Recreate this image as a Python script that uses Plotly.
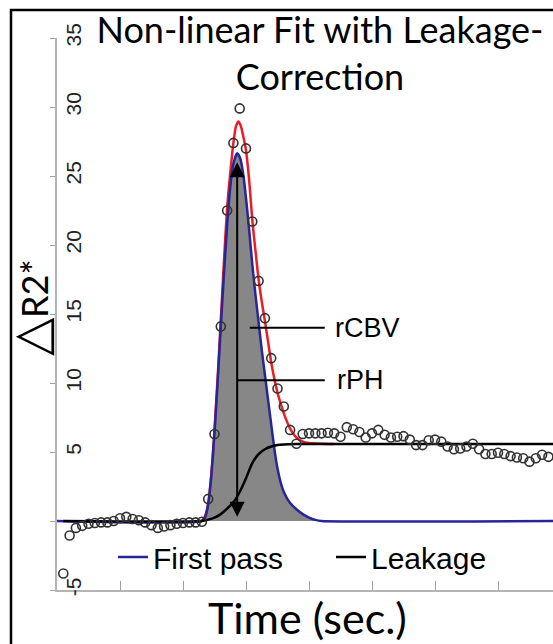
import plotly.graph_objects as go

# ---------------- data ----------------
# measured signal (open circles), one sample per time unit
sample_t = list(range(1, 79))
sample_dr2 = [
    -3.8, -1.05,
    -0.5, -0.35, -0.2, -0.15, -0.1, -0.1, 0.0, 0.2, 0.3, 0.15, 0.05,
    -0.1, -0.3, -0.5, -0.4, -0.3, -0.2, -0.15, -0.1, -0.1, -0.05,
    1.6, 6.3, 14.1, 22.5, 27.4, 29.9, 27.0, 21.7, 17.4, 14.7, 11.8, 9.6,
    8.3, 6.6, 5.6, 6.3,
    6.35, 6.35, 6.35, 6.4, 6.35, 6.1, 6.8, 6.65, 6.45, 6.05, 6.35, 6.6,
    6.25, 6.05, 6.1, 6.15, 5.9, 5.5, 5.5, 5.85, 5.9, 5.75, 5.4, 5.2,
    5.25, 5.4, 5.6, 5.2, 4.85, 4.85, 4.95, 4.85, 4.7, 4.6, 4.55, 4.3,
    4.55, 4.8, 4.65,
]

# first-pass fit (blue)
fp_t = [0, 23, 23.5, 24, 24.5, 25, 25.5, 26, 26.5, 27, 27.5, 28, 28.6, 29.1,
        29.6, 30, 30.5, 31, 31.5, 32, 32.5, 33, 33.5, 34, 34.5, 35, 35.5, 36,
        37, 38, 39, 40, 41, 42, 79]
fp_v = [0, 0, 0.25, 1.2, 3.3, 6.4, 10.1, 14.1, 17.9, 21.4, 24.2, 25.9, 26.65,
        26.25, 25.0, 23.4, 21.1, 18.6, 16.4, 14.4, 12.4, 10.6, 8.8, 7.0, 5.25,
        3.8, 2.8, 2.1, 1.3, 0.85, 0.5, 0.25, 0.08, 0, 0]

# total non-linear fit (red)
fit_t = [23, 23.5, 24, 24.5, 25, 25.5, 26, 26.5, 27, 27.5, 28, 28.4, 28.8,
         29.2, 29.6, 30, 30.5, 31, 31.5, 32, 32.5, 33, 33.5, 34, 34.5, 35,
         35.5, 36, 36.5, 37, 38, 39, 40, 42, 44]
fit_v = [0, 0.35, 1.3, 3.4, 6.6, 10.4, 14.6, 18.8, 22.7, 25.2, 27.4, 28.6,
         28.95, 28.6, 27.8, 26.85, 24.7, 21.8, 19.6, 17.5, 15.9, 14.5, 13.0,
         11.5, 10.3, 9.3, 8.5, 7.8, 7.2, 6.7, 6.05, 5.75, 5.65, 5.6, 5.58]

# leakage component (black)
leak_t = [1, 23, 24, 25, 26, 27, 28, 29, 30, 31, 32, 33, 34, 35, 36, 38, 79]
leak_v = [0, 0, 0.1, 0.25, 0.5, 0.9, 1.35, 2.1, 3.1, 4.2, 4.85, 5.2, 5.4,
          5.5, 5.55, 5.58, 5.58]

y_ticks = [-5, 0, 5, 10, 15, 20, 25, 30, 35]
y_ticktext = ["-5", "", "5", "10", "15", "20", "25", "30", "35"]
x_ticks = [0, 10, 20, 30, 40, 50, 60, 70]

# annotation anchors (data coordinates)
peak_t, peak_top = 28.6, 26.0
rcbv_y, rph_y = 14.0, 10.2
label_line_end = 42.5

SANS = "Liberation Sans, Arial, sans-serif"
HUMAN = "Lato, Open Sans, Liberation Sans, sans-serif"

BLUE = "#26269a"
RED = "#ee1c24"
GREY = "#878787"

fig = go.Figure()

# grey area under the first-pass curve
fig.add_trace(go.Scatter(x=fp_t, y=fp_v, mode="lines", fill="tozeroy",
                         fillcolor=GREY, line=dict(width=0, shape="spline", smoothing=0.6),
                         showlegend=False, hoverinfo="skip"))
# red total fit
fig.add_trace(go.Scatter(x=fit_t, y=fit_v, mode="lines",
                         line=dict(color=RED, width=2.5, shape="spline", smoothing=0.6),
                         showlegend=False))
# blue first pass
fig.add_trace(go.Scatter(x=fp_t, y=fp_v, mode="lines", name="First pass",
                         legend="legend",
                         line=dict(color=BLUE, width=2.5, shape="spline", smoothing=0.6)))
# black leakage
fig.add_trace(go.Scatter(x=leak_t, y=leak_v, mode="lines", name="Leakage",
                         legend="legend2",
                         line=dict(color="black", width=2.5, shape="spline", smoothing=0.6)))
# measured points
fig.add_trace(go.Scatter(x=sample_t, y=sample_dr2, mode="markers",
                         marker=dict(symbol="circle-open", size=9,
                                     color="#333333", line=dict(width=1.6)),
                         showlegend=False))

# rCBV / rPH label lines
fig.add_shape(type="line", xref="x", yref="y", x0=30.6, x1=label_line_end,
              y0=rcbv_y, y1=rcbv_y, line=dict(color="black", width=2))
fig.add_shape(type="line", xref="x", yref="y", x0=peak_t, x1=label_line_end,
              y0=rph_y, y1=rph_y, line=dict(color="black", width=2))

# outer frame (left and top edges are visible; the rest runs off the page)
fig.add_shape(type="rect", xref="paper", yref="paper",
              x0=(11 - 57) / 496, x1=1.01, y0=-60 / 552, y1=(590 - 10) / 552,
              line=dict(color="black", width=2.5), layer="above")

# double arrow (peak height)
fig.add_annotation(x=peak_t, y=peak_top, ax=peak_t, ay=0.2, xref="x", yref="y",
                   axref="x", ayref="y", text="", showarrow=True,
                   arrowhead=2, startarrowhead=2, arrowside="end+start",
                   arrowsize=1.5, arrowwidth=2, arrowcolor="black")
fig.add_annotation(x=43.8, y=rcbv_y, xref="x", yref="y", text="rCBV",
                   showarrow=False, xanchor="left", yanchor="middle",
                   font=dict(family=SANS, size=27, color="black"))
fig.add_annotation(x=44.1, y=rph_y, xref="x", yref="y", text="rPH",
                   showarrow=False, xanchor="left", yanchor="middle",
                   font=dict(family=SANS, size=27, color="black"))

# axis titles
fig.add_annotation(x=(29 - 57) / 496, y=(590 - 308) / 552, xref="paper", yref="paper",
                   text="<span style='font-size:50px'>△</span>R2*", textangle=-90,
                   showarrow=False, xanchor="center", yanchor="middle",
                   font=dict(family=HUMAN, size=36, color="black"))
fig.add_annotation(x=(307 - 57) / 496, y=(590 - 617) / 552, xref="paper", yref="paper",
                   text="Time (sec.)", showarrow=False, xanchor="center",
                   yanchor="middle", font=dict(family=HUMAN, size=43, color="black"))

legend_common = dict(orientation="h", xanchor="left", yanchor="middle",
                     y=(590 - 557) / 552, bgcolor="rgba(0,0,0,0)", itemwidth=30,
                     font=dict(family=SANS, size=30, color="black"))

fig.update_layout(
    width=553, height=644, autosize=False,
    margin=dict(l=57, r=0, t=38, b=54),
    paper_bgcolor="white", plot_bgcolor="white",
    title=dict(text="Non-linear Fit with Leakage-<br>Correction",
               x=320 / 553, xanchor="center", y=1 - 43 / 644, yanchor="top",
               font=dict(family=HUMAN, size=36, color="black")),
    legend=dict(x=(117 - 57 - 4) / 496, **legend_common),
    legend2=dict(x=(335 - 57 - 4) / 496, **legend_common),
    showlegend=True,
)

fig.update_xaxes(range=[0, 496 / 6.3], showline=True, linecolor="#b4b4b4",
                 linewidth=1.5, tickvals=x_ticks, showticklabels=False,
                 ticks="inside", ticklen=9, tickcolor="#a0a0a0", tickwidth=1,
                 showgrid=False, zeroline=False, automargin=False)
fig.update_yaxes(range=[-5, 35], showline=True, linecolor="#b4b4b4",
                 linewidth=1.5, tickvals=y_ticks, ticktext=y_ticktext,
                 ticklabelposition="inside", ticklabeloverflow="allow",
                 tickangle=-90, ticks="outside", ticklen=5, tickcolor="#a0a0a0",
                 tickfont=dict(family=SANS, size=21, color="#222"),
                 showgrid=False, zeroline=False, automargin=False)

fig.write_html("out.html", config={"responsive": False})
